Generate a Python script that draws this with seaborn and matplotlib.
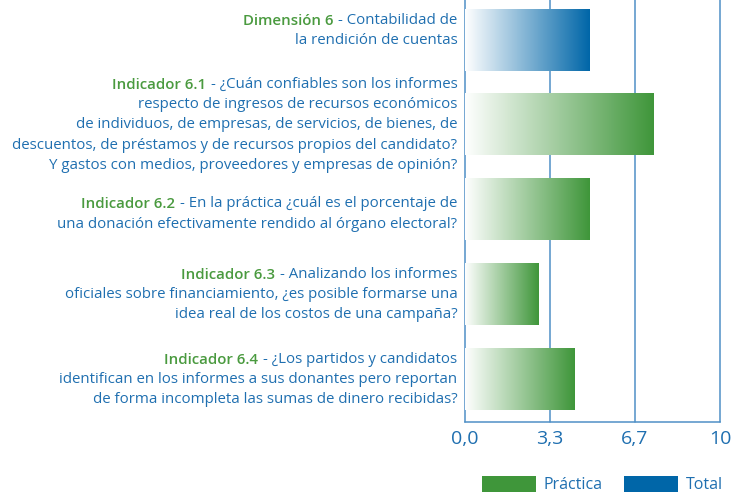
import matplotlib
matplotlib.use('Agg')
import matplotlib.pyplot as plt
import matplotlib.transforms as mtransforms
from matplotlib.colors import LinearSegmentedColormap
from matplotlib.patches import Patch
import numpy as np
import pandas as pd
import seaborn as sns

sns.set_theme(style="white")
plt.rcParams['font.family'] = ['Open Sans', 'DejaVu Sans']

# data
heads = ['Dimensión 6', 'Indicador 6.1', 'Indicador 6.2', 'Indicador 6.3', 'Indicador 6.4']
texts = [
    ['- Contabilidad de', 'la rendición de cuentas'],
    ['- ¿Cuán confiables son los informes',
     'respecto de ingresos de recursos económicos',
     'de individuos, de empresas, de servicios, de bienes, de',
     'descuentos, de préstamos y de recursos propios del candidato?',
     'Y gastos con medios, proveedores y empresas de opinión?'],
    ['- En la práctica ¿cuál es el porcentaje de',
     'una donación efectivamente rendido al órgano electoral?'],
    ['- Analizando los informes',
     'oficiales sobre financiamiento, ¿es posible formarse una',
     'idea real de los costos de una campaña?'],
    ['- ¿Los partidos y candidatos',
     'identifican en los informes a sus donantes pero reportan',
     'de forma incompleta las sumas de dinero recibidas?'],
]
values = [4.9, 7.4, 4.9, 2.9, 4.3]
kinds = ['Total', 'Práctica', 'Práctica', 'Práctica', 'Práctica']
ticks = [0, 10 / 3, 20 / 3, 10]
tick_labels = ['0,0', '3,3', '6,7', '10']

GREEN = '#3f963a'
BLUE = '#0066a8'
TXT_BLUE = '#1f6fb0'
TXT_GREEN = '#4a9a3f'
LINE = '#4f90c6'

# vertical nudge of each label block (points, up is positive)
label_shift = [7, 0, -3, 0, 0]

df = pd.DataFrame({'pos': [str(i) for i in range(len(values))],
                   'val': values, 'kind': kinds})

fig = plt.figure(figsize=(7.4, 4.94), dpi=100)
ax = fig.add_axes([0.6284, 0.1457, 0.3446, 0.8593])

sns.barplot(data=df, x='val', y='pos', hue='kind', orient='h',
            palette={'Práctica': GREEN, 'Total': BLUE}, dodge=False,
            saturation=1, width=0.72, legend=False, ax=ax, zorder=3)

# gradient fill: white on the left to full colour on the right
grad = np.linspace(0, 1, 256).reshape(1, -1)
for p in list(ax.patches):
    w = p.get_width()
    if w <= 0:
        continue
    x0, y0, h = p.get_x(), p.get_y(), p.get_height()
    cmap = LinearSegmentedColormap.from_list('g', ['#ffffff', p.get_facecolor()])
    ax.imshow(grad, extent=(x0, x0 + w, y0 + h, y0), aspect='auto',
              cmap=cmap, zorder=3, interpolation='bilinear')
    p.set_visible(False)

ax.set_xlim(0, 10)
ax.set_ylim(len(values) - 0.5, -0.5)
ax.set_xticks(ticks)
ax.set_xticklabels(tick_labels)
ax.set_yticks([])
ax.set_xlabel('')
ax.set_ylabel('')
ax.tick_params(axis='x', length=0, pad=6, labelsize=14, labelcolor=TXT_BLUE)

ax.grid(axis='x', color=LINE, lw=1.1, zorder=1)
ax.grid(axis='y', visible=False)
for gl in ax.get_xgridlines():
    gl.set_clip_on(False)
for side in ['top', 'left', 'right']:
    ax.spines[side].set_visible(False)
ax.spines['bottom'].set_color(LINE)
ax.spines['bottom'].set_linewidth(1.1)

# labels on the left: green heading + blue text, right aligned
trans = mtransforms.blended_transform_factory(ax.transAxes, ax.transData)
spacing = 14.6
fs = 10.8
for j, (head, lines) in enumerate(zip(heads, texts)):
    n = len(lines)
    for i, line in enumerate(lines):
        dy = ((n - 1) / 2 - i) * spacing + label_shift[j]
        t = ax.annotate(line, xy=(-0.03, j), xycoords=trans,
                        xytext=(0, dy), textcoords='offset points',
                        ha='right', va='center', fontsize=fs, color=TXT_BLUE,
                        annotation_clip=False)
        if i == 0:
            ax.annotate(head, xy=(0, 0), xycoords=t, xytext=(-3.5, 0),
                        textcoords='offset points', ha='right', va='bottom',
                        fontsize=fs, color=TXT_GREEN, fontweight='semibold')

handles = [Patch(facecolor=GREEN, edgecolor='none'),
           Patch(facecolor=BLUE, edgecolor='none')]
leg = fig.legend(handles, ['Práctica', 'Total'], ncol=2, loc='lower right',
                 bbox_to_anchor=(0.99, -0.018), frameon=False, fontsize=11.5,
                 handlelength=3.4, handleheight=1.1, handletextpad=0.5,
                 columnspacing=1.3, borderpad=0.1)
for txt in leg.get_texts():
    txt.set_color(TXT_BLUE)

fig.savefig('out.png', dpi=100)
